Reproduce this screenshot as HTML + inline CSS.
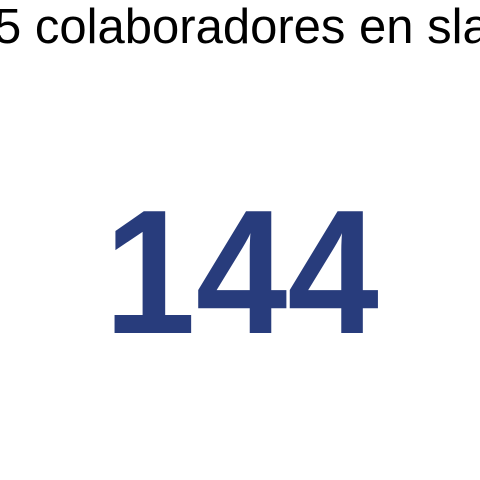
<!DOCTYPE html>
<html><head><meta charset="utf-8"><style>
html,body{margin:0;padding:0;width:480px;height:480px;background:#fff;overflow:hidden}
svg{display:block}
</style></head><body>
<svg width="480" height="480">
<text x="-6" y="43" font-family="Liberation Sans, sans-serif" font-size="49" fill="#000">5 colaboradores en slack</text>
<g transform="translate(241.5,333) scale(0.93,1)">
<text x="0" y="0" text-anchor="middle" font-family="Liberation Sans, sans-serif" font-weight="bold" font-size="177" fill="#283c7c">144</text>
</g>
</svg>
</body></html>
